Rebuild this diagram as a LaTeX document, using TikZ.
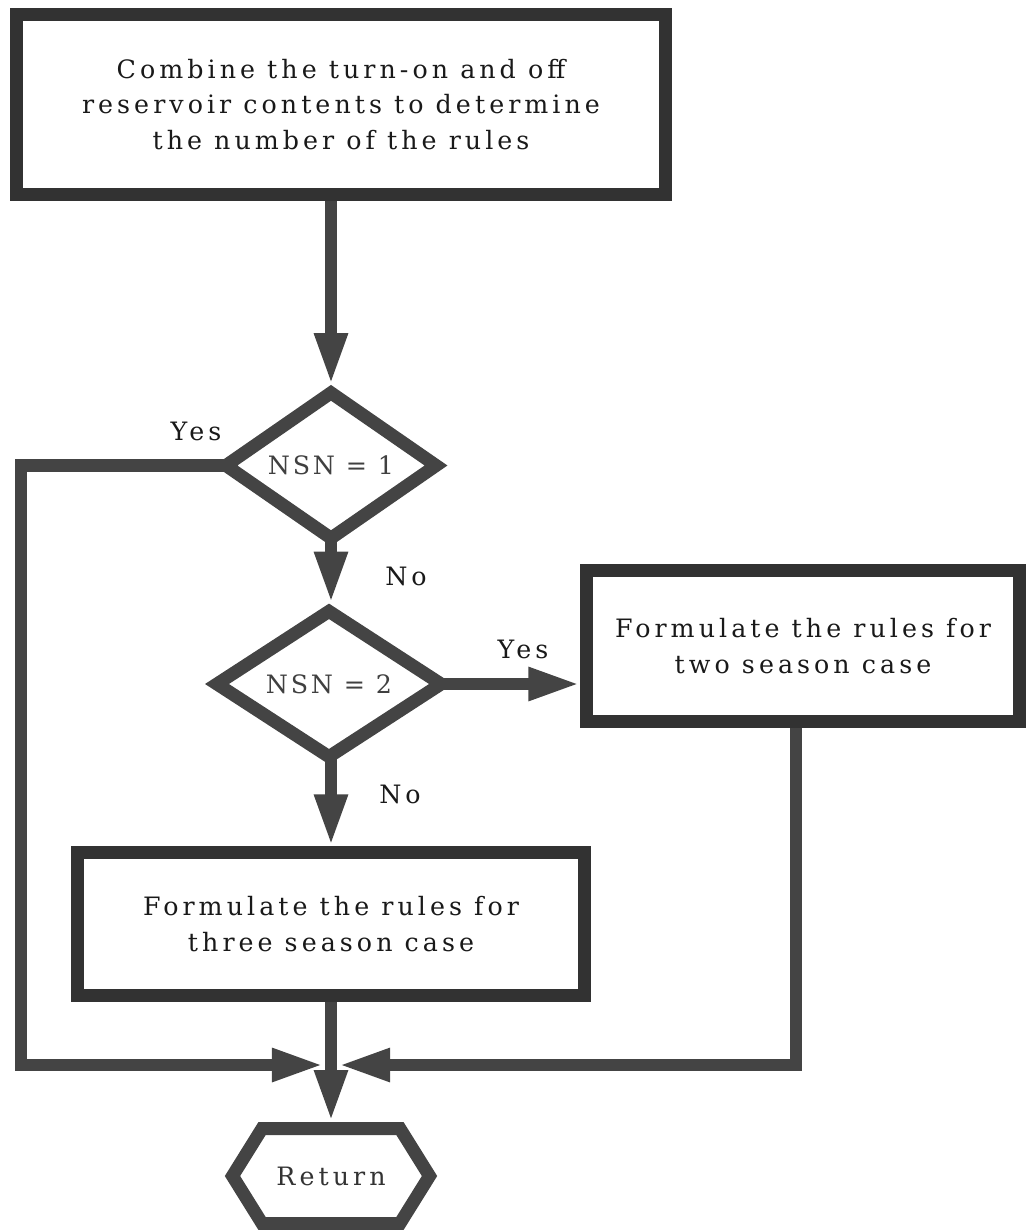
\documentclass[tikz,border=0pt]{standalone}
\usepackage{fontspec}
\setmainfont{DejaVu Serif}
\usetikzlibrary{arrows.meta,shapes.geometric}
\definecolor{ink}{RGB}{50,50,50}
\definecolor{lnk}{RGB}{68,68,68}
\newcommand\bodyfont{\fontsize{18pt}{25.3pt}\selectfont\addfontfeatures{LetterSpace=16}}
\newcommand\condfont{\fontsize{18pt}{25.3pt}\selectfont\addfontfeatures{LetterSpace=11}}
\begin{document}
\begin{tikzpicture}[x=0.025cm,y=-0.025cm,
  procbox/.style={draw=ink, line width=0.325cm, rectangle, inner sep=0pt, align=center, font=\bodyfont, text=black!90},
  decision/.style={draw=lnk, line width=0.325cm, diamond, inner sep=0pt, outer sep=0pt, font=\condfont, text=black!75},
  conn/.style={draw=lnk, line width=0.31cm},
  arr/.style={conn, -{Triangle[length=1.3cm,width=0.76cm]}},
  lbl/.style={font=\bodyfont, text=black!90, inner sep=0pt, anchor=base}
]
\useasboundingbox (0,0) rectangle (1026,1230);

% nodes
\node[procbox, minimum width=16.2cm, minimum height=4.475cm] (top) at (341,104.5)
  {Combine the turn-on and off\\reservoir contents to determine\\the number of the rules};
\node[decision, minimum width=5.25cm, minimum height=3.475cm] (d1) at (331,465.5) {NSN = 1};
\node[decision, minimum width=5.6cm, minimum height=3.575cm] (d2) at (329,684) {NSN = 2};
\node[procbox, minimum width=10.8cm, minimum height=3.75cm] (b2) at (803,646)
  {Formulate the rules for\\two season case};
\node[procbox, minimum width=12.675cm, minimum height=3.55cm] (b3) at (331,924)
  {Formulate the rules for\\three season case};
\node[rectangle, minimum width=4.925cm, minimum height=2.375cm, inner sep=0pt, outer sep=0pt,
  font=\bodyfont, text=black!80] (ret) at (331,1176) {Return};
\draw[draw=lnk, line width=0.325cm]
  (ret.west) -- ([xshift=0.74cm]ret.north west) -- ([xshift=-0.74cm]ret.north east)
  -- (ret.east) -- ([xshift=-0.74cm]ret.south east) -- ([xshift=0.74cm]ret.south west) -- cycle;

% junction coordinates
\coordinate (lc) at (21,1065);
\coordinate (rc) at (796,1065);
\coordinate (jl) at (324,1065);
\coordinate (jr) at (338,1065);

% connectors
\draw[arr] (top.south -| d1.north) -- ([yshift=0.19cm]d1.north);
\draw[arr] (d1.south) -- ([yshift=0.19cm]d1.south |- d2.north);
\draw[arr] (d2.east) -- (d2.east -| b2.west);
\draw[arr] (d1.south |- d2.south) -- (d1.south |- b3.north);
\draw[arr] (d1.west) -| (lc) -- (jl);
\draw[arr] (b2.south -| rc) -- (rc) -- (jr);
\draw[arr] (b3.south -| ret.north) -- ([yshift=0.16cm]ret.north);

% labels
\node[lbl] (y1) at (196,440) {Yes};
\node[lbl] (n1) at (406,585) {No};
\node[lbl] (y2) at (523,658) {Yes};
\node[lbl] (n2) at (400,803) {No};
\end{tikzpicture}
\end{document}
